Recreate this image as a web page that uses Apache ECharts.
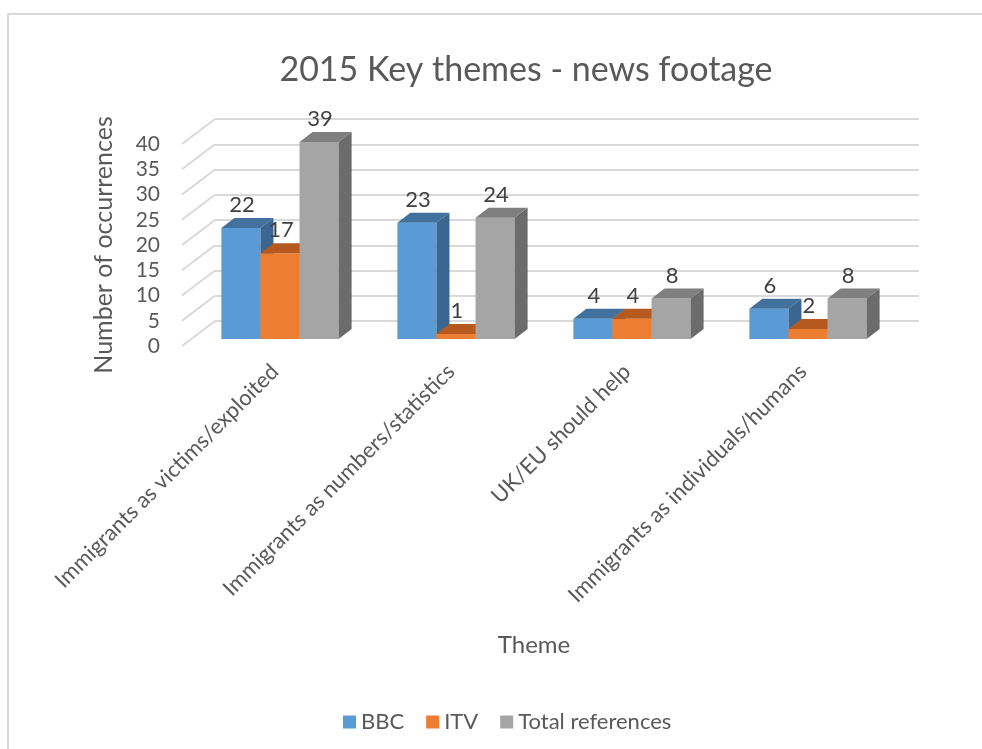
<!DOCTYPE html>
<html>
<head>
<meta charset="utf-8">
<script src="https://cdn.jsdelivr.net/npm/echarts@6/dist/echarts.min.js"></script>
<style>
  html, body { margin: 0; padding: 0; background: #ffffff; }
  #chart { width: 982px; height: 749px; }
</style>
</head>
<body>
<div id="chart"></div>
<script>
// Theme categories and counts per broadcaster
const categories = [
  'Immigrants as victims/exploited',
  'Immigrants as numbers/statistics',
  'UK/EU should help',
  'Immigrants as individuals/humans'
];
const bbcValues = [22, 23, 4, 6];
const itvValues = [17, 1, 4, 2];
const totalValues = [39, 24, 8, 8];
const yTicks = [0, 5, 10, 15, 20, 25, 30, 35, 40];

const FONT = 'Lato, "Open Sans", sans-serif';

// Oblique projection: wall -> bar front face, and bar depth
const FRONT_DX = -23, FRONT_DY = 18;
const DEPTH_DX = 13, DEPTH_DY = -10;
// Wall -> floor front edge
const FLOOR_DX = -33, FLOOR_DY = 25;

const palette = {
  BBC:   { front: '#5b9bd5', top: '#41719c', side: '#3b6692' },
  ITV:   { front: '#ed7d31', top: '#b5591f', side: '#ad561e' },
  Total: { front: '#a5a5a5', top: '#7f7f7f', side: '#6b6b6b' }
};

function barRenderer(slot, colors) {
  return function (params, api) {
    const ci = api.value(0);
    const v = api.value(1);
    const band = api.size([1, 0])[0];
    const bw = band * 0.222;
    const base = api.coord([ci, 0]);
    const topPt = api.coord([ci, v]);
    const cx = base[0] + FRONT_DX + (slot - 1) * bw;
    const L = cx - bw / 2, R = cx + bw / 2;
    const B = base[1] + FRONT_DY, T = topPt[1] + FRONT_DY;
    return {
      type: 'group',
      children: [
        { type: 'rect', shape: { x: L, y: T, width: bw, height: B - T },
          style: { fill: colors.front } },
        { type: 'polygon', shape: { points: [[L, T], [R, T], [R + DEPTH_DX, T + DEPTH_DY], [L + DEPTH_DX, T + DEPTH_DY]] },
          style: { fill: colors.top } },
        { type: 'polygon', shape: { points: [[R, T], [R + DEPTH_DX, T + DEPTH_DY], [R + DEPTH_DX, B + DEPTH_DY], [R, B]] },
          style: { fill: colors.side } },
        { type: 'text', z2: 100,
          style: { text: String(v), x: cx + 1, y: T - 12,
                   align: 'center', verticalAlign: 'bottom',
                   fill: '#404040', font: '22px ' + FONT } }
      ]
    };
  };
}

function barSeries(name, key, values, slot) {
  return {
    name: name,
    type: 'custom',
    xAxisIndex: 0, yAxisIndex: 0,
    silent: true,
    itemStyle: { color: palette[key].front },
    renderItem: barRenderer(slot, palette[key]),
    encode: { x: 0, y: 1 },
    data: values.map((v, i) => [i, v]),
    z: 3
  };
}

const chart = echarts.init(document.getElementById('chart'), null, { renderer: 'canvas' });

chart.setOption({
  animation: false,
  backgroundColor: '#ffffff',
  textStyle: { fontFamily: FONT },
  title: {
    text: '2015 Key themes - news footage',
    left: 521, top: 48, textAlign: 'center',
    textStyle: { fontFamily: FONT, fontSize: 34, fontWeight: 'normal', color: '#595959' }
  },
  graphic: [{
    type: 'rect', silent: true, z: -10,
    shape: { x: 8, y: 14, width: 1000, height: 800 },
    style: { fill: 'none', stroke: '#d9d9d9', lineWidth: 2 }
  }],
  legend: {
    data: ['BBC', 'ITV', 'Total references'],
    left: 338, top: 706,
    icon: 'rect', itemWidth: 13, itemHeight: 13, itemGap: 22,
    textStyle: { fontFamily: FONT, fontSize: 22, color: '#595959' }
  },
  grid: [
    // back wall
    { left: 215, right: 63, top: 119, bottom: 428 },
    // floor front edge
    { left: 182, right: 96, top: 144, bottom: 403 },
    // category label anchors
    { left: 187, right: 91, top: 144, bottom: 403 }
  ],
  xAxis: [
    { gridIndex: 0, type: 'category', data: categories,
      axisLine: { show: false }, axisTick: { show: false }, axisLabel: { show: false } },
    { gridIndex: 1, type: 'category', data: categories,
      axisLine: { show: false }, axisTick: { show: false }, axisLabel: { show: false },
      name: 'Theme', nameLocation: 'middle', nameGap: 287,
      nameTextStyle: { fontFamily: FONT, fontSize: 24, color: '#595959' } },
    { gridIndex: 2, type: 'category', data: categories,
      axisLine: { show: false }, axisTick: { show: false },
      axisLabel: { rotate: 45, margin: 22, interval: 0,
                   fontFamily: FONT, fontSize: 22, color: '#595959' } }
  ],
  yAxis: [
    { gridIndex: 0, type: 'value', min: 0, max: 40, interval: 5,
      axisLine: { show: false }, axisTick: { show: false }, axisLabel: { show: false },
      splitLine: { show: true, lineStyle: { color: '#d9d9d9', width: 2 } } },
    { gridIndex: 1, type: 'value', min: 0, max: 40, interval: 5,
      axisLine: { show: false }, axisTick: { show: false }, splitLine: { show: false },
      axisLabel: { margin: 22, fontFamily: FONT, fontSize: 21, color: '#595959' },
      name: 'Number of occurrences', nameLocation: 'middle', nameGap: 66,
      nameTextStyle: { fontFamily: FONT, fontSize: 25, color: '#595959' } },
    { gridIndex: 2, type: 'value', min: 0, max: 40, interval: 5, show: false }
  ],
  series: [
    {
      // floor-edge diagonals joining each wall gridline to its tick label
      name: 'floor', type: 'custom', silent: true,
      xAxisIndex: 0, yAxisIndex: 0, z: 1,
      encode: { x: 0, y: 1 },
      data: yTicks.map(v => [0, v]),
      renderItem: function (params, api) {
        const p = api.coord([0, api.value(1)]);
        const x0 = params.coordSys.x;
        return {
          type: 'line',
          shape: { x1: x0, y1: p[1], x2: x0 + FLOOR_DX, y2: p[1] + FLOOR_DY },
          style: { stroke: '#d9d9d9', lineWidth: 2 }
        };
      }
    },
    barSeries('BBC', 'BBC', bbcValues, 0),
    barSeries('ITV', 'ITV', itvValues, 1),
    barSeries('Total references', 'Total', totalValues, 2)
  ]
});
</script>
</body>
</html>
